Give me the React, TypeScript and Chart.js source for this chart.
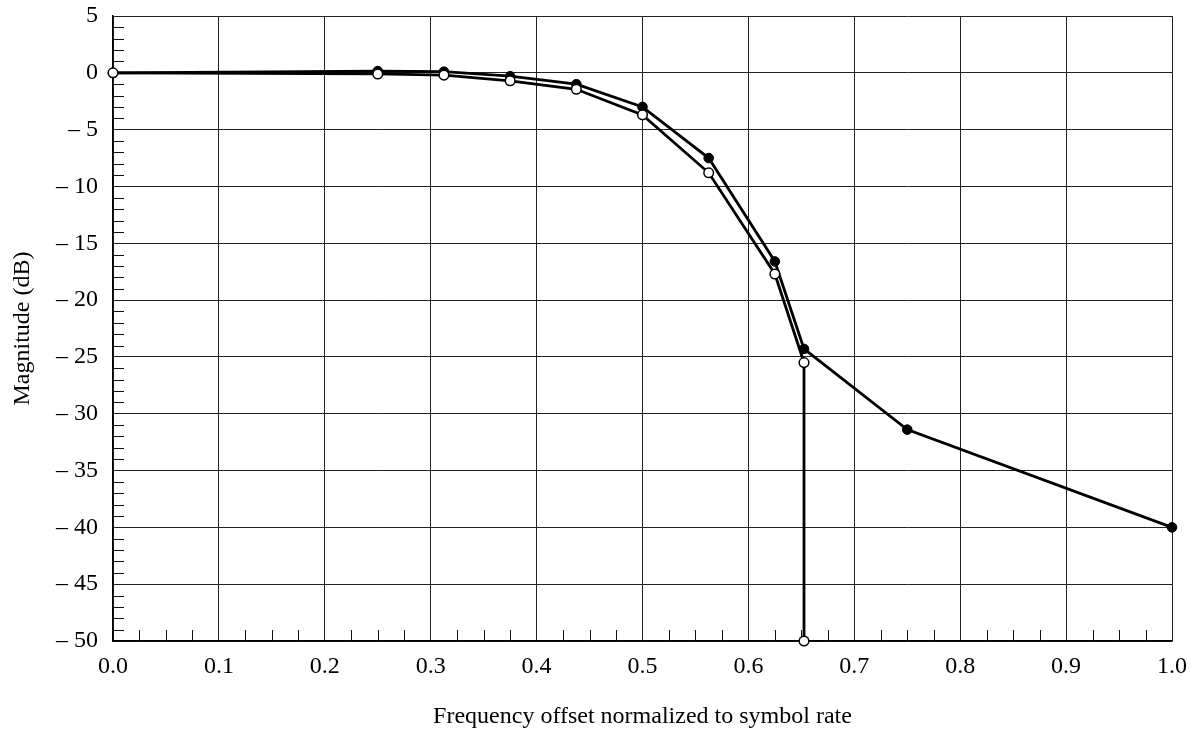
import React, { useEffect, useRef } from "react";
import { Chart, registerables } from "chart.js";

Chart.register(...registerables);

const xFilled = [0, 0.25, 0.3125, 0.375, 0.4375, 0.5, 0.5625, 0.625, 0.6525, 0.75, 1.0];
const yFilled = [0, 0.15, 0.1, -0.3, -1.0, -3.0, -7.5, -16.6, -24.3, -31.4, -40.0];

const xOpen = [0, 0.25, 0.3125, 0.375, 0.4375, 0.5, 0.5625, 0.625, 0.6525, 0.6525];
const yOpen = [0, -0.1, -0.2, -0.7, -1.45, -3.7, -8.8, -17.7, -25.5, -50];

const xMinorTicks = Array.from({ length: 41 }, (_, i) => i * 0.025);
const yMinorTicks = Array.from({ length: 56 }, (_, i) => -50 + i);

const FONT = "'Liberation Serif', 'Times New Roman', serif";

const minorTickPlugin = {
  id: "minorTicks",
  beforeDatasetsDraw(chart: any) {
    const { ctx, chartArea, scales } = chart;
    const xs = scales.x;
    const ys = scales.y;
    ctx.save();
    ctx.strokeStyle = "#111";
    ctx.lineWidth = 1;
    ctx.beginPath();
    xMinorTicks.forEach((v) => {
      if (Math.abs(v * 10 - Math.round(v * 10)) < 1e-6) return;
      const px = Math.round(xs.getPixelForValue(v)) + 0.5;
      ctx.moveTo(px, chartArea.bottom);
      ctx.lineTo(px, chartArea.bottom - 11);
    });
    yMinorTicks.forEach((v) => {
      if (v % 5 === 0) return;
      const py = Math.round(ys.getPixelForValue(v)) + 0.5;
      ctx.moveTo(chartArea.left, py);
      ctx.lineTo(chartArea.left + 11, py);
    });
    ctx.stroke();
    ctx.restore();
  },
};

export default function App() {
  const ref = useRef<HTMLCanvasElement | null>(null);
  useEffect(() => {
    if (!ref.current) return;
    const chart = new Chart(ref.current, {
      type: "line",
      data: {
        datasets: [
          {
            label: "filled",
            order: 2,
            data: xFilled.map((x, i) => ({ x, y: yFilled[i] })),
            borderColor: "#000",
            borderWidth: 2.8,
            pointRadius: 4.8,
            pointBackgroundColor: "#000",
            pointBorderColor: "#000",
            pointBorderWidth: 1,
            tension: 0,
            clip: false as any,
          },
          {
            label: "open",
            order: 1,
            data: xOpen.map((x, i) => ({ x, y: yOpen[i] })),
            borderColor: "#000",
            borderWidth: 2.8,
            pointRadius: 4.8,
            pointBackgroundColor: "#fff",
            pointBorderColor: "#000",
            pointBorderWidth: 1.5,
            tension: 0,
            clip: false as any,
          },
        ],
      },
      options: {
        animation: false,
        responsive: true,
        maintainAspectRatio: false,
        layout: { padding: { left: 0, top: 16, right: 26, bottom: 0 } },
        plugins: {
          legend: { display: false },
          tooltip: { enabled: false },
        },
        scales: {
          x: {
            type: "linear",
            min: 0,
            max: 1,
            afterFit: (s: any) => {
              s.height = 93;
            },
            ticks: {
              stepSize: 0.1,
              color: "#000",
              padding: 11,
              font: { family: FONT, size: 24 },
              callback: (v: any) => Number(v).toFixed(1),
            },
            grid: { color: "#222", lineWidth: 1, drawTicks: false },
            border: { color: "#000", width: 1.5 },
            title: {
              display: true,
              text: "Frequency offset normalized to symbol rate",
              color: "#000",
              font: { family: FONT, size: 24 },
              padding: { top: 0, bottom: 3 },
            },
          },
          y: {
            type: "linear",
            min: -50,
            max: 5,
            afterFit: (s: any) => {
              s.width = 113;
              s.paddingTop = 0;
              s.paddingBottom = 0;
            },
            ticks: {
              stepSize: 5,
              color: "#000",
              padding: 15,
              font: { family: FONT, size: 24 },
              callback: (v: any) => {
                const n = Number(v);
                return n < 0 ? "\u2013 " + Math.abs(n) : String(n);
              },
            },
            grid: { color: "#222", lineWidth: 1, drawTicks: false },
            border: { color: "#000", width: 1.5 },
            title: {
              display: true,
              text: "Magnitude (dB)",
              color: "#000",
              font: { family: FONT, size: 24 },
              padding: { top: 8, bottom: 0 },
            },
          },
        },
      },
      plugins: [minorTickPlugin],
    });
    return () => chart.destroy();
  }, []);
  return (
    <div style={{ position: "absolute", left: 0, top: 0, width: 1198, height: 734, background: "#fff" }}>
      <canvas ref={ref} />
    </div>
  );
}
